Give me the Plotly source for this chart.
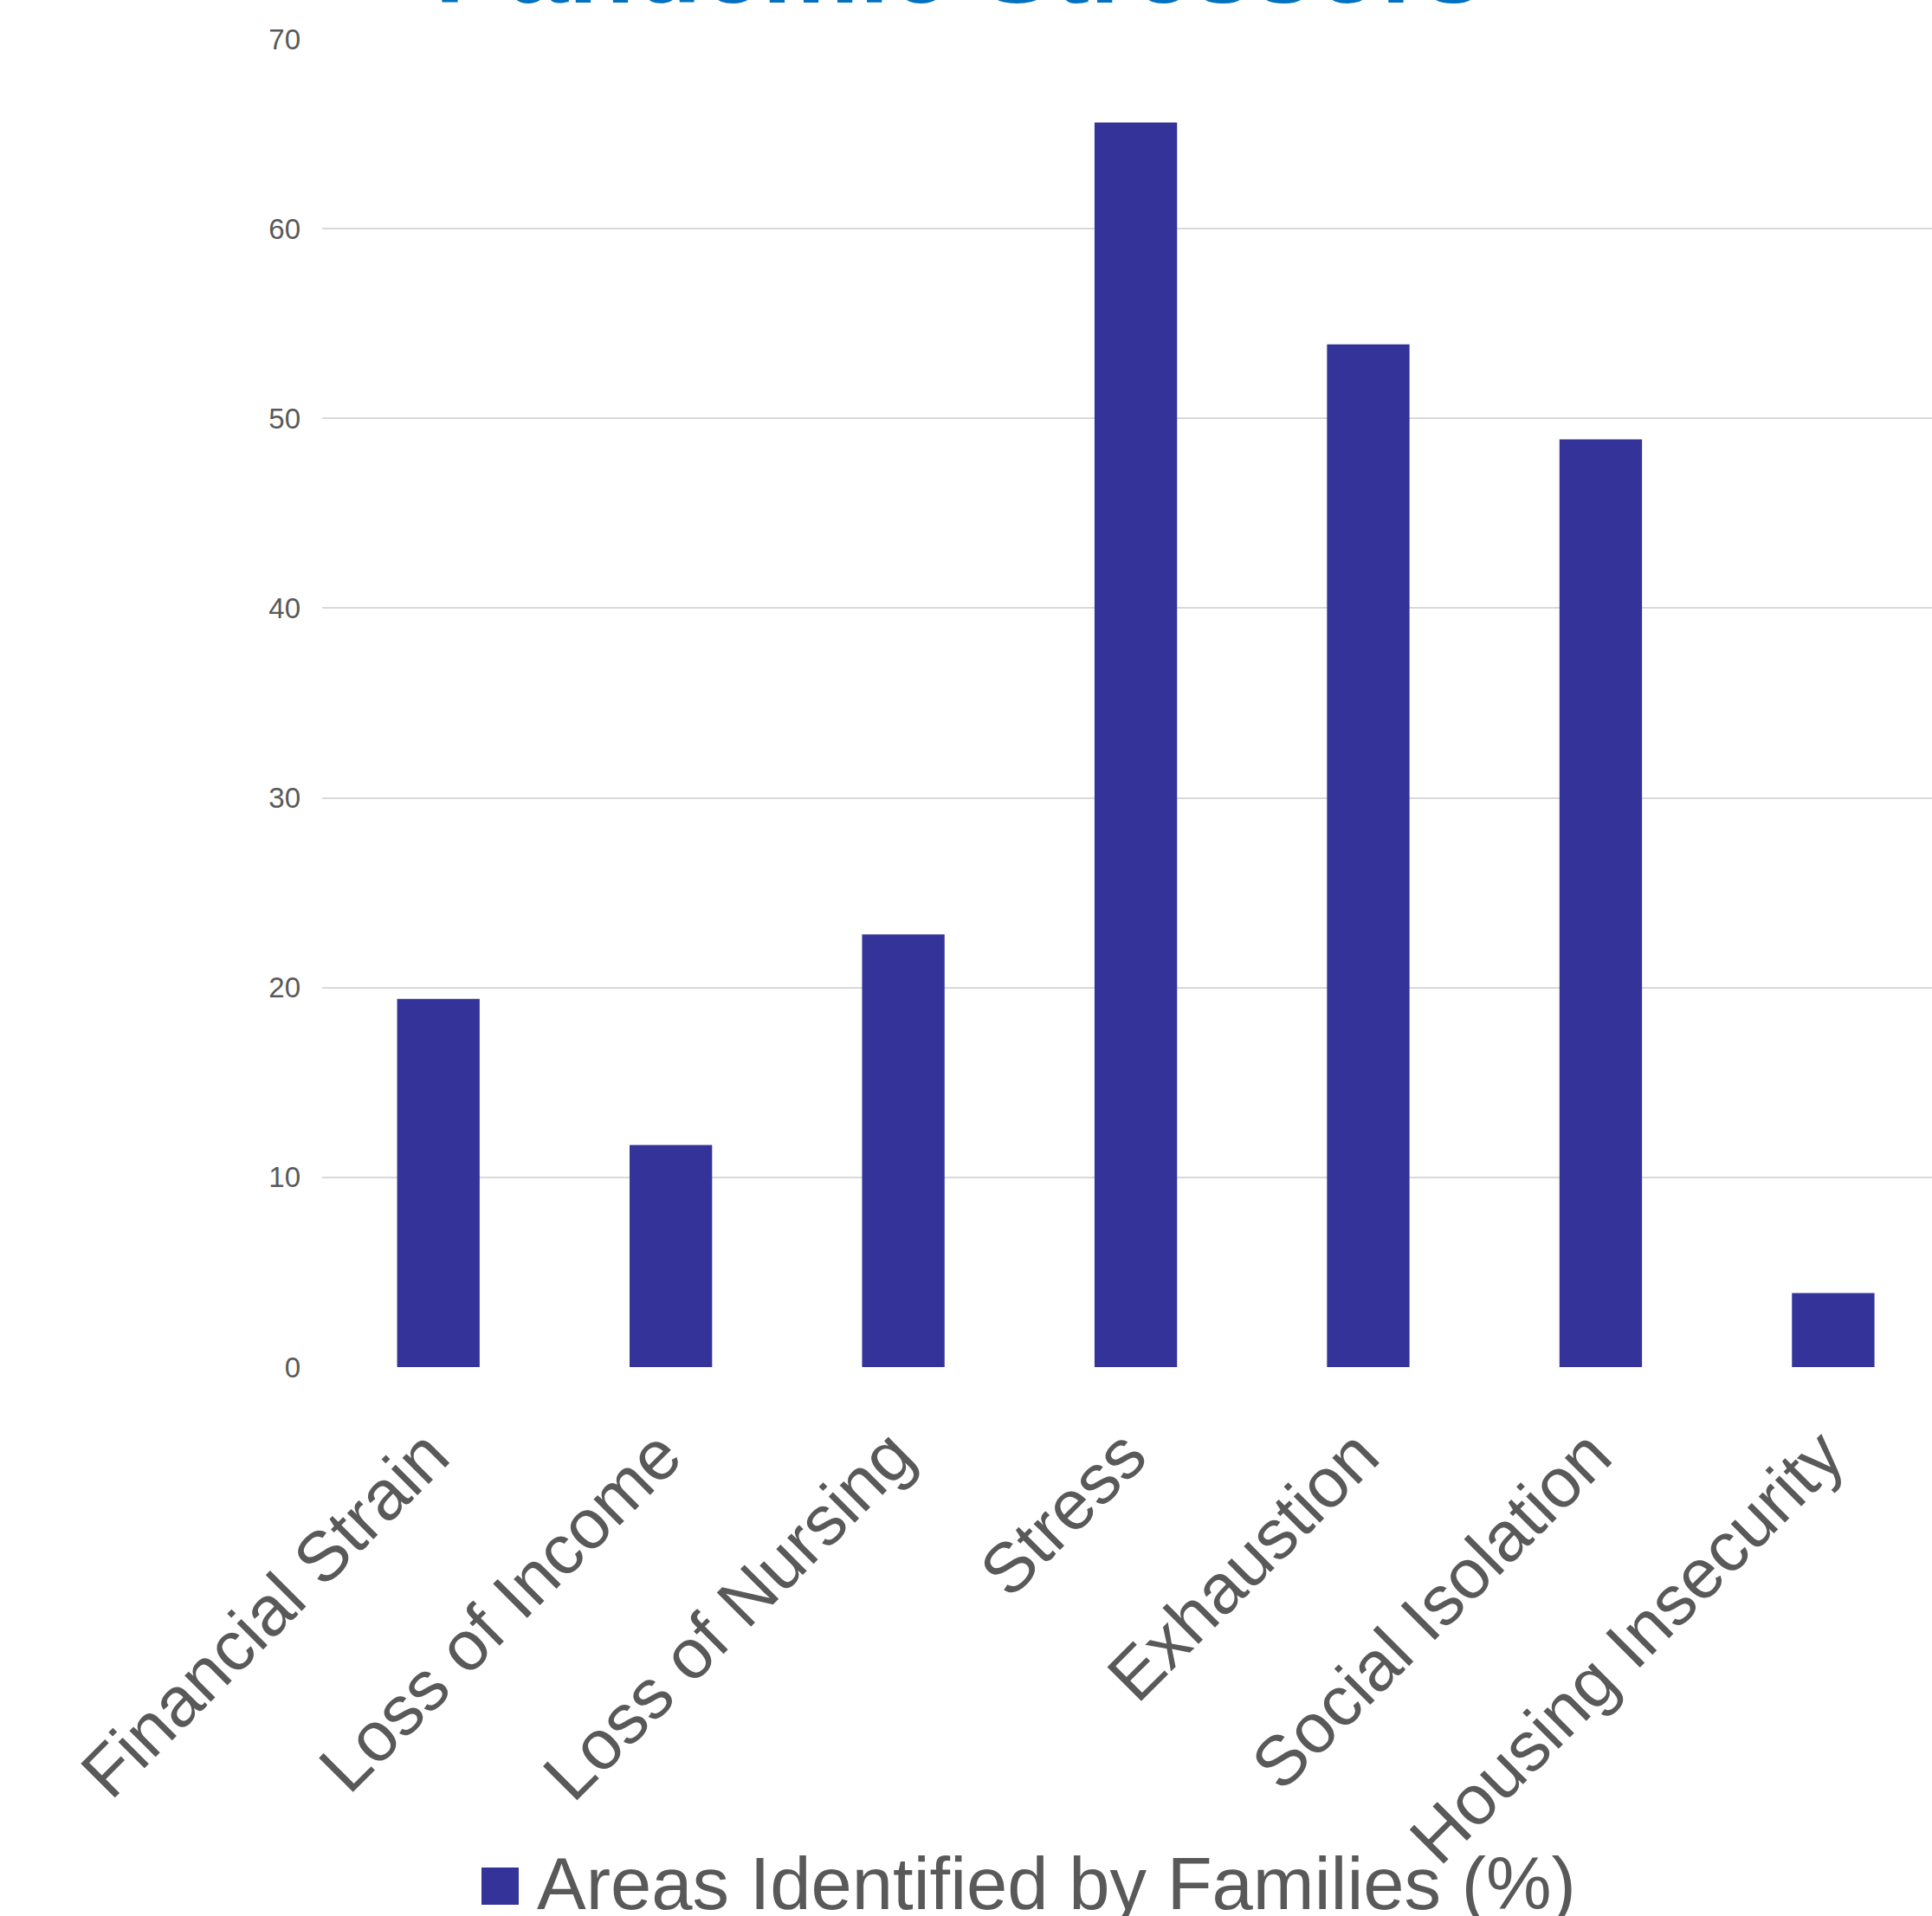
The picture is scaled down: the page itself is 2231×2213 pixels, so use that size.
import plotly.graph_objects as go

# Survey results: share of families naming each pandemic stressor
categories = [
    "Financial Strain",
    "Loss of Income",
    "Loss of Nursing",
    "Stress",
    "Exhaustion",
    "Social Isolation",
    "Housing Insecurity",
]
percent_values = [19.4, 11.7, 22.8, 65.6, 53.9, 48.9, 3.9]
series_name = "Areas Identified by Families (%)"
chart_title = "Pandemic Stressors"
y_ticks = [0, 10, 20, 30, 40, 50, 60, 70]

BAR_COLOR = "#333399"
TEXT_GREY = "#595959"
GRID_GREY = "#D9D9D9"
TITLE_BLUE = "#0070C0"
FONT = "Liberation Sans, Arial, sans-serif"

W, H = 2231, 2213
M_L, M_R, M_T, M_B = 372, 0, 45, 634
plot_w = W - M_L - M_R
plot_h = H - M_T - M_B


def px_to_paper_x(px):
    return (px - M_L) / plot_w


def px_to_paper_y(py):
    return (H - M_B - py) / plot_h


fig = go.Figure()
fig.add_trace(
    go.Bar(
        x=categories,
        y=percent_values,
        name=series_name,
        marker=dict(color=BAR_COLOR, line=dict(width=0)),
        width=0.355,
        showlegend=False,
    )
)

# Title sits mostly above the top edge of the page
fig.add_annotation(
    text="<b>" + chart_title + "</b>",
    xref="paper", yref="paper",
    x=px_to_paper_x(1108), y=1,
    xanchor="center", yanchor="bottom",
    yshift=13,
    showarrow=False,
    font=dict(family=FONT, size=126, color=TITLE_BLUE),
)

# Legend drawn as a swatch plus label beneath the category labels
fig.add_shape(
    type="rect",
    xref="paper", yref="paper",
    x0=px_to_paper_x(556), x1=px_to_paper_x(599),
    y0=px_to_paper_y(2157), y1=px_to_paper_y(2200),
    fillcolor=BAR_COLOR, line=dict(width=0),
)
fig.add_annotation(
    text=series_name,
    xref="paper", yref="paper",
    x=px_to_paper_x(618), y=px_to_paper_y(2175),
    xanchor="left", yanchor="middle",
    showarrow=False,
    font=dict(family=FONT, size=85, color=TEXT_GREY),
)

fig.update_layout(
    width=W,
    height=H,
    margin=dict(l=M_L, r=M_R, t=M_T, b=M_B, pad=0),
    paper_bgcolor="white",
    plot_bgcolor="white",
    font=dict(family=FONT, color=TEXT_GREY),
    showlegend=False,
    bargap=0.645,
)

fig.update_xaxes(
    type="category",
    range=[-0.5, 6.425],
    tickangle=-45,
    tickfont=dict(family=FONT, size=81, color=TEXT_GREY),
    showgrid=False,
    showline=False,
    zeroline=False,
    ticks="",
    ticklabelstandoff=37,
    ticklabelshift=-12,
    automargin=False,
)

fig.update_yaxes(
    range=[0, 70],
    tickvals=y_ticks,
    tickfont=dict(family=FONT, size=33, color=TEXT_GREY),
    showgrid=True,
    gridcolor=GRID_GREY,
    gridwidth=2,
    zeroline=False,
    showline=False,
    ticks="",
    ticklabelstandoff=24,
    automargin=False,
)

fig.write_html("out.html")
